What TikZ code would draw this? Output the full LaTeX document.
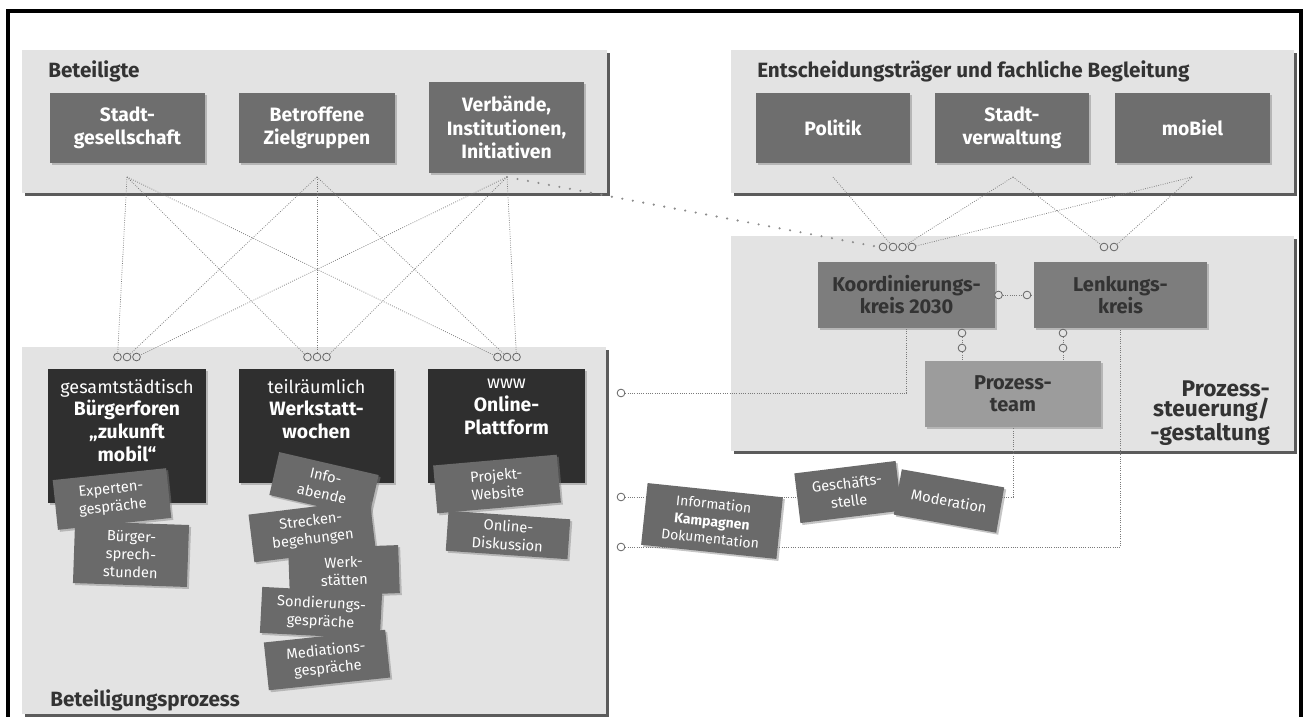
\documentclass[tikz,border=0pt]{standalone}
\usepackage{fontspec}
\setmainfont{Fira Sans}
\usetikzlibrary{shadows}
\definecolor{contfill}{HTML}{E3E3E3}
\definecolor{midbox}{HTML}{6E6E6E}
\definecolor{darkbox}{HTML}{2F2F2F}
\definecolor{cardc}{HTML}{6A6A6A}
\definecolor{kbox}{HTML}{7D7D7D}
\definecolor{tbox}{HTML}{9C9C9C}
\definecolor{dtext}{HTML}{333333}
\definecolor{lnk}{HTML}{7A7A7A}
\pgfdeclarelayer{bg}
\pgfdeclarelayer{lines}
\pgfsetlayers{bg,lines,main}
\begin{document}
\begin{tikzpicture}[x=0.75pt,y=-0.75pt,
  wh/.style 2 args={minimum width=#1*0.75pt, minimum height=#2*0.75pt, inner sep=0pt},
  cont/.style={fill=contfill, draw=none, anchor=north west,
    drop shadow={shadow xshift=2.2pt, shadow yshift=-2.2pt, fill=black!80, opacity=0.8}},
  hdr/.style={font=\bfseries\fontsize{15.5}{18}\selectfont, text=dtext, inner sep=0pt},
  mid/.style={fill=midbox, text=white, align=center,
    font=\bfseries\fontsize{14.5}{17.5}\selectfont,
    drop shadow={shadow xshift=1.5pt, shadow yshift=-1.5pt, opacity=0.45}},
  kb/.style={fill=kbox, text=dtext, align=center,
    font=\bfseries\fontsize{15}{16.5}\selectfont,
    drop shadow={shadow xshift=1.5pt, shadow yshift=-1.5pt, opacity=0.45}},
  tb/.style={kb, fill=tbox},
  dk/.style={fill=darkbox, anchor=north,
    drop shadow={shadow xshift=1.5pt, shadow yshift=-1.5pt, opacity=0.45}},
  dktext/.style={text=white, align=center, anchor=north, inner sep=0pt,
    font=\bfseries\fontsize{14.5}{17}\selectfont},
  cardn/.style={fill=cardc, text=white, align=center,
    font=\fontsize{11}{13.5}\selectfont,
    drop shadow={shadow xshift=1.5pt, shadow yshift=-1.5pt, opacity=0.45}},
  oc/.style={circle, draw=black!60, line width=0.6pt, fill=contfill, inner sep=0pt, minimum size=5.8pt},
  ocw/.style={oc, fill=white},
  dl/.style={draw=lnk, line width=0.55pt, dash pattern=on 0.6pt off 1.1pt},
  sparse/.style={draw=black!45, line width=1.8pt, line cap=round, dash pattern=on 0pt off 8pt}
]
\useasboundingbox (0,0) rectangle (1306,717);

% containers
\begin{pgfonlayer}{bg}
\fill[white] (0,0) rectangle (1306,717);
\node[cont, wh={585}{143}] (bet) at (22,50) {};
\node[cont, wh={563}{143}] (ent) at (731,50) {};
\node[cont, wh={563}{215}] (proz) at (731,236) {};
\node[cont, wh={584}{367}] (betp) at (22,347) {};
\end{pgfonlayer}
\draw[line width=2.4pt] (8,725) -- (8,11) -- (1301,11) -- (1301,725);

% headers
\node[hdr, anchor=base west] (hbet) at (48,78) {Beteiligte};
\node[hdr, anchor=base west] (hent) at (757,78) {Entscheidungsträger und fachliche Begleitung};
\node[hdr, anchor=base west] (hbp) at (50,706) {Beteiligungsprozess};
\node[hdr, font=\bfseries\fontsize{17}{15.5}\selectfont, anchor=east, align=right] (pst) at (1270,413) {Prozess-\\steuerung/\\-gestaltung};

% top boxes
\node[mid, wh={155}{70}] (stadt) at (127.5,128) {Stadt-\\gesellschaft};
\node[mid, wh={156}{70}] (betr) at (317,128) {Betroffene\\Zielgruppen};
\node[mid, wh={155}{91}] (verb) at (506.5,127.5) {Verbände,\\Institutionen,\\Initiativen};
\node[mid, wh={154}{70}] (pol) at (833,128) {Politik};
\node[mid, wh={154}{70}] (sv) at (1012,128) {Stadt-\\verwaltung};
\node[mid, wh={155}{70}] (mob) at (1192.5,128) {moBiel};

\coordinate (s1) at (127,177);
\coordinate (s2) at (317,177);
\coordinate (s3) at (507,177);
\coordinate (p1) at (833,177);
\coordinate (p2) at (1013,177);
\coordinate (p3) at (1192,177);

% process steering
\node[kb, wh={177}{66}] (koord) at (906.5,295) {Koordinierungs-\\kreis 2030};
\node[kb, wh={173}{66}] (lenk) at (1120.5,295) {Lenkungs-\\kreis};
\node[tb, wh={176}{66}] (team) at (1013,394) {Prozess-\\team};

% small circles
\foreach \g/\x in {1/127,2/317,3/507}{
  \node[oc] (g\g-1) at (\x-9.5,357) {};
  \node[oc] (g\g-2) at (\x,357) {};
  \node[oc] (g\g-3) at (\x+9.5,357) {};
}
\node[oc] (q1) at (883,247) {};
\node[oc] (q2) at (893,247) {};
\node[oc] (q3) at (902.5,247) {};
\node[oc] (q4) at (912,247) {};
\node[oc] (r1) at (1104,247) {};
\node[oc] (r2) at (1114,247) {};
\node[oc] (kl1) at (998.5,295) {};
\node[oc] (kl2) at (1027,295) {};
\node[oc] (kt1) at (962,333) {};
\node[oc] (kt2) at (962,348) {};
\node[oc] (lt1) at (1063,333) {};
\node[oc] (lt2) at (1063,348) {};
\node[ocw] (sc1) at (621,393) {};
\node[ocw] (sc2) at (621,497) {};
\node[ocw] (sc3) at (621,547) {};

% dark boxes
\node[dk, wh={158}{134}] (bf) at (127,369) {};
\node[dk, wh={155}{114}] (ww) at (316.5,369) {};
\node[dk, wh={157}{114}] (op) at (506.5,369) {};
\node[dktext] (bft) at (127,379) {{\mdseries\fontsize{13.5}{17}\selectfont gesamtstädtisch}\\Bürgerforen\\„zukunft\\mobil“};
\node[dktext] (wwt) at (316.5,379) {{\mdseries\fontsize{13.5}{17}\selectfont teilräumlich}\\Werkstatt-\\wochen};
\node[dktext] (opt) at (506.5,379) {{\mdseries\fontsize{13.5}{17}\selectfont www}\\Online-\\Plattform};

% cards
\node[cardn, wh={114}{50}, rotate=6] (exp) at (112,499) {Experten-\\gespräche};
\node[cardn, wh={114}{62}, rotate=-2] (bsp) at (131,554) {Bürger-\\sprech-\\stunden};
\node[cardn, wh={102}{44}, rotate=-13] (info) at (324,485) {Info-\\abende};
\node[cardn, wh={122}{48}, rotate=7] (str) at (312,531) {Strecken-\\begehungen};
\node[cardn, wh={110}{48}, rotate=2] (wst) at (344,571) {Werk-\\stätten};
\node[cardn, wh={120}{46}, rotate=-3] (son) at (321,613) {Sondierungs-\\gespräche};
\node[cardn, wh={122}{48}, rotate=6] (med) at (327,660) {Mediations-\\gespräche};
\node[cardn, wh={124}{48}, rotate=5] (prw) at (497,484) {Projekt-\\Website};
\node[cardn, wh={122}{40}, rotate=-4] (odk) at (508,535) {Online-\\Diskussion};
\node[cardn, wh={136}{62}, rotate=-6, font=\fontsize{10.5}{13}\selectfont] (icd) at (712,521) {Information\\{\bfseries Kampagnen}\\Dokumentation};
\node[cardn, wh={102}{50}, rotate=7] (gst) at (848,492) {Geschäfts-\\stelle};
\node[cardn, wh={104}{46}, rotate=-10] (mod) at (949,501) {Moderation};

% connectors
\begin{pgfonlayer}{lines}
\foreach \s in {1,2,3}{
  \foreach \t in {1,2,3}{
    \draw[dl] (s\s) -- (g\t-\s);
  }
}
\draw[sparse] (s3) -- (q1.west);
\draw[dl] (p1) -- (q2);
\draw[dl] (p2) -- (q3);
\draw[dl] (p3) -- (q4);
\draw[dl] (p2) -- (r1);
\draw[dl] (p3) -- (r2);
\draw[dl] (koord.east) -- (kl1) -- (kl2) -- (lenk.west);
\draw[dl] (kt1) -- (kt2) -- (kt2 |- team.north);
\draw[dl] (lt1) -- (lt2) -- (lt2 |- team.north);
\draw[dl] (sc1) -| (koord.south);
\draw[dl] (sc2) -| (team.south);
\draw[dl] (sc3) -| (lenk.south);
\end{pgfonlayer}
\end{tikzpicture}
\end{document}
